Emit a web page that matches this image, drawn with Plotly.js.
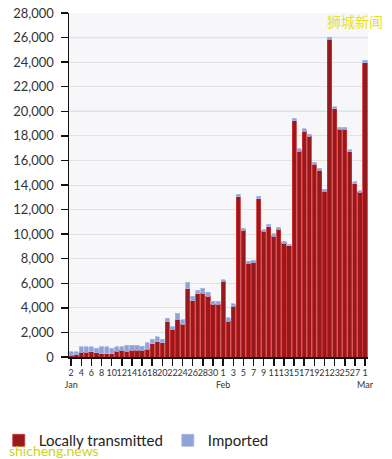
<!DOCTYPE html>
<html>
<head>
<meta charset="utf-8">
<script src="https://cdn.plot.ly/plotly-3.0.1.min.js"></script>
<style>
html,body{margin:0;padding:0;background:#fff;}
#chart{width:392px;height:459px;}
</style>
</head>
<body>
<div id="chart"></div>
<script>
var dates = [
'2022-01-02','2022-01-03','2022-01-04','2022-01-05','2022-01-06','2022-01-07','2022-01-08','2022-01-09','2022-01-10','2022-01-11',
'2022-01-12','2022-01-13','2022-01-14','2022-01-15','2022-01-16','2022-01-17','2022-01-18','2022-01-19','2022-01-20','2022-01-21',
'2022-01-22','2022-01-23','2022-01-24','2022-01-25','2022-01-26','2022-01-27','2022-01-28','2022-01-29','2022-01-30','2022-01-31',
'2022-02-01','2022-02-02','2022-02-03','2022-02-04','2022-02-05','2022-02-06','2022-02-07','2022-02-08','2022-02-09','2022-02-10',
'2022-02-11','2022-02-12','2022-02-13','2022-02-14','2022-02-15','2022-02-16','2022-02-17','2022-02-18','2022-02-19','2022-02-20',
'2022-02-21','2022-02-22','2022-02-23','2022-02-24','2022-02-25','2022-02-26','2022-02-27','2022-02-28','2022-03-01'
];
var local = [
160,170,380,380,430,350,270,270,270,460,
540,460,540,540,540,650,1060,1250,1170,2850,
2250,3060,2660,5570,4560,5150,5200,4930,4280,4280,
6180,2930,4120,13060,10300,7640,7720,12900,10220,10600,
9810,10410,9270,9050,19250,16750,18380,17950,15700,15200,
13500,25850,20200,18550,18550,16700,14100,13400,23950
];
var imported = [
270,260,460,460,410,380,570,570,460,380,
300,515,435,435,350,490,400,380,290,290,
220,520,380,530,370,300,380,330,270,270,
110,270,220,190,160,140,170,190,130,190,
220,160,160,140,180,185,180,180,150,160,
160,165,175,150,150,150,180,145,200
];
var seriesNames = ['Locally transmitted','Imported'];
var monthLabels = {'2022-01-02':'Jan','2022-02-01':'Feb','2022-03-01':'Mar'};
var yTicks = [0,2000,4000,6000,8000,10000,12000,14000,16000,18000,20000,22000,24000,26000,28000];

var tickvals = [], ticktext = [];
for (var i = 0; i < dates.length; i += 2) {
  tickvals.push(dates[i]);
  var d = String(parseInt(dates[i].slice(8), 10));
  ticktext.push(monthLabels[dates[i]] ? d + '<br>' + monthLabels[dates[i]] : d);
}

var FONT = 'Lato, "Noto Sans", sans-serif';

var traces = [
  {type:'bar', x:dates, y:local, name:seriesNames[0],
   marker:{color:'#961a1d', line:{color:'#d33030', width:0.8}}},
  {type:'bar', x:dates, y:imported, name:seriesNames[1],
   marker:{color:'#8fa3d8', line:{color:'#aab8e2', width:0.8}}}
];

var layout = {
  width:392, height:459,
  margin:{l:69, r:24, t:13, b:102, pad:0, autoexpand:false},
  paper_bgcolor:'#ffffff',
  plot_bgcolor:'#f7f7f9',
  barmode:'stack',
  bargap:0.18,
  font:{family:FONT, color:'#333333'},
  showlegend:true,
  legend:{orientation:'h', x:-0.235, xanchor:'left', y:-0.243, yanchor:'middle',
          font:{size:15, color:'#222222', family:FONT},
          itemwidth:30, tracegroupgap:0,
          bgcolor:'rgba(0,0,0,0)', traceorder:'normal'},
  xaxis:{type:'date', range:['2022-01-01 14:00','2022-03-01 14:00'],
         tickvals:tickvals, ticktext:ticktext, tickangle:0,
         tickfont:{size:9, color:'#333333', family:FONT},
         ticks:'outside', ticklen:7, tickwidth:1.5, tickcolor:'#111111',
         showline:true, linecolor:'#111111', linewidth:1.5,
         showgrid:false, zeroline:false, fixedrange:true},
  yaxis:{range:[0,28000], tickvals:yTicks, tickformat:',d',
         tickfont:{size:13, color:'#333333', family:FONT},
         ticks:'outside', ticklen:7, tickwidth:1.5, tickcolor:'#111111',
         ticklabelstandoff:4,
         showline:true, linecolor:'#111111', linewidth:1.5,
         showgrid:true, gridcolor:'#e2e2e4', gridwidth:1, zeroline:false},
  shapes:[
    {type:'line', xref:'paper', x0:0, x1:1, yref:'y', y0:20000, y1:20000, layer:'below', line:{color:'#cfe1ee', width:1.5}},
    {type:'line', xref:'paper', x0:0, x1:1, yref:'y', y0:26000, y1:26000, layer:'below', line:{color:'#cfe1ee', width:1.5}}
  ],
  annotations:[
    {text:'狮城新闻', xref:'paper', yref:'paper', x:1.058, y:0.978, xanchor:'right', yanchor:'middle',
     showarrow:false, font:{size:14, color:'#e9e21a', family:'"Noto Sans CJK SC", sans-serif'}},
    {text:'shicheng.news', xref:'paper', yref:'paper', x:-0.207, y:-0.272, xanchor:'left', yanchor:'middle',
     showarrow:false, font:{size:14, color:'#cfd21c', family:FONT}}
  ]
};

Plotly.newPlot('chart', traces, layout, {displayModeBar:false, staticPlot:true});
</script>
</body>
</html>
